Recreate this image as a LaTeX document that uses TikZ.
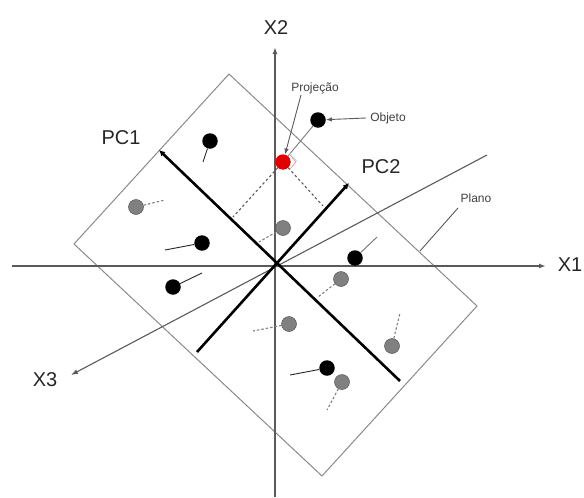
\documentclass[tikz,border=0pt]{standalone}
\usepackage{fontspec}
\setmainfont{Liberation Sans}
\usetikzlibrary{arrows.meta}
\definecolor{axisgray}{HTML}{5A5A5A}
\definecolor{planegray}{HTML}{8A8A8A}
\definecolor{dotgray}{HTML}{808080}
\begin{document}
\begin{tikzpicture}[x=1pt,y=-1pt,
  axis/.style={draw=axisgray,line width=1.4pt,-{Latex[length=7pt,width=5pt]}},
  pcaxis/.style={draw=black,line width=2.6pt,-{Latex[length=6pt,width=6pt]}},
  plane/.style={draw=planegray,line width=1pt},
  blackdot/.style={circle,fill=black,minimum size=15.5pt,inner sep=0pt},
  graydot/.style={circle,fill=dotgray,draw=axisgray,line width=0.5pt,minimum size=15pt,inner sep=0pt},
  reddot/.style={circle,fill=red!90!black,minimum size=15pt,inner sep=0pt},
  tailsolid/.style={draw=black!85,line width=0.9pt},
  taildash/.style={draw=dotgray,line width=1.1pt,dash pattern=on 2.5pt off 2pt},
  projdash/.style={draw=axisgray,line width=1.1pt,dash pattern=on 2.5pt off 2.5pt},
  leader/.style={draw=axisgray,line width=0.9pt},
  biglabel/.style={font=\fontsize{20}{22}\selectfont,text=black!85},
  smalllabel/.style={font=\fontsize{12}{14}\selectfont,text=black!75}]
\useasboundingbox (0,0) rectangle (584,498);

% plane
\coordinate (r1) at (229,74);
\coordinate (r2) at (477,306);
\coordinate (r3) at (322,476);
\coordinate (r4) at (74,244);
\draw[plane] (r1) -- (r2) -- (r3) -- (r4) -- cycle;

% original axes
\coordinate (o) at (275,266);
\coordinate (x1s) at (12,266);
\coordinate (x1e) at (546,266);
\coordinate (x2s) at (275,497);
\coordinate (x2e) at (275,47);
\coordinate (x3s) at (487,155);
\coordinate (x3e) at (71,375);
\draw[axis] (x1s) -- (x1e);
\draw[axis] (x2s) -- (x2e);
\draw[axis,line width=1.1pt] (x3s) -- (x3e);
\node[biglabel] (lx1) at (570,265) {X1};
\node[biglabel] (lx2) at (276,28) {X2};
\node[biglabel] (lx3) at (45,380) {X3};

% principal components
\coordinate (pc1s) at (400,381);
\coordinate (pc1e) at (159,150);
\coordinate (pc2s) at (197,352);
\coordinate (pc2e) at (349,183);
\draw[pcaxis] (pc1s) -- (pc1e);
\draw[pcaxis] (pc2s) -- (pc2e);
\node[biglabel] (lpc1) at (121,138) {PC1};
\node[biglabel] (lpc2) at (381,167) {PC2};

% object and its projection onto the plane
\node[blackdot] (obj) at (318,120) {};
\node[reddot] (proj) at (283,162) {};
\coordinate (f1) at (233,217);
\coordinate (f2) at (323,206);
\draw[leader,draw=axisgray!80] (obj) -- (proj);
\draw[projdash] (proj) -- (f1);
\draw[projdash] (proj) -- (f2);
% right-angle mark
\draw[red!45,line width=0.7pt] (289.4,154.3) -- (296,161.7) -- (289.7,169.4);
\draw[cyan!40,line width=0.5pt] (290.4,153.6) -- (297,161.2);
\node[reddot] at (proj) {};

% scattered observations
\node[blackdot] (b1) at (210,141) {};
\node[graydot]  (g1) at (136,207) {};
\node[blackdot] (b2) at (202,243) {};
\node[blackdot] (b3) at (173,287) {};
\node[graydot]  (g2) at (283,228) {};
\node[blackdot] (b4) at (355,258) {};
\node[graydot]  (g3) at (341,279) {};
\node[graydot]  (g4) at (289,324) {};
\node[graydot]  (g5) at (392,346) {};
\node[blackdot] (b5) at (327,368) {};
\node[graydot]  (g6) at (342,382) {};

\coordinate (t1) at (203,162);
\coordinate (t2) at (165,200);
\coordinate (t3) at (165,250);
\coordinate (t4) at (202,273);
\coordinate (t5) at (259,242);
\coordinate (t6) at (377,237);
\coordinate (t7) at (318,297);
\coordinate (t8) at (253,331);
\coordinate (t9) at (400,313);
\coordinate (t10) at (290,375);
\coordinate (t11) at (327,410);
\draw[tailsolid] (b1) -- (t1);
\draw[taildash]  (g1) -- (t2);
\draw[tailsolid] (b2) -- (t3);
\draw[tailsolid] (b3) -- (t4);
\draw[taildash]  (g2) -- (t5);
\draw[tailsolid,draw=black!55] (b4) -- (t6);
\draw[taildash]  (g3) -- (t7);
\draw[taildash]  (g4) -- (t8);
\draw[taildash]  (g5) -- (t9);
\draw[tailsolid] (b5) -- (t10);
\draw[taildash]  (g6) -- (t11);

% labels with leaders
\node[smalllabel] (lproj) at (315,88) {Projeção};
\node[smalllabel] (lobj) at (388,118) {Objeto};
\node[smalllabel] (lplano) at (476,198) {Plano};
\coordinate (pj) at (301,95);
\coordinate (ob) at (366,118);
\coordinate (pl1) at (458,208);
\coordinate (pl2) at (420,251);
\draw[leader,-{Latex[length=6pt,width=4.5pt]}] (pj) -- (proj);
\draw[leader,-{Latex[length=6pt,width=4.5pt]}] (ob) -- (obj);
\draw[leader] (pl1) -- (pl2);
\end{tikzpicture}
\end{document}
